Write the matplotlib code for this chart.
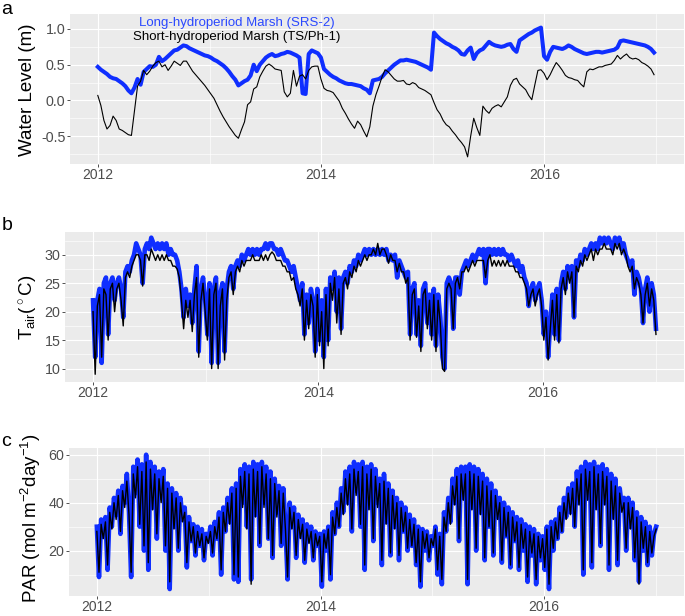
#!/usr/bin/env python
"""
Water level, air temperature and PAR at the two Everglades marsh sites, 2012-2016
"""

import matplotlib
matplotlib.use('Agg')
import matplotlib.pyplot as plt
import matplotlib.dates as mdates
import pandas as pd
from datetime import datetime

plt.rcParams['font.family'] = 'Liberation Sans'
plt.rcParams['mathtext.fontset'] = 'custom'
plt.rcParams['mathtext.rm'] = 'Liberation Sans'
plt.rcParams['mathtext.it'] = 'Liberation Sans:italic'
plt.rcParams['axes.unicode_minus'] = False

# --- data ---
# water level, every 10 days from 2012-01-01 (m)
wl_long = [
    0.47, 0.43, 0.40, 0.37, 0.33, 0.31, 0.30, 0.27, 0.24, 0.20,
    0.14, 0.10, 0.18, 0.30, 0.22, 0.40, 0.44, 0.48, 0.47, 0.50,
    0.61, 0.55, 0.58, 0.62, 0.66, 0.70, 0.71, 0.74, 0.77, 0.76,
    0.73, 0.71, 0.69, 0.67, 0.65, 0.63, 0.62, 0.60, 0.57, 0.55,
    0.52, 0.49, 0.45, 0.40, 0.34, 0.29, 0.21, 0.24, 0.27, 0.29,
    0.35, 0.50, 0.41, 0.50, 0.55, 0.60, 0.63, 0.65, 0.62, 0.63,
    0.65, 0.66, 0.68, 0.67, 0.65, 0.63, 0.60, 0.10, 0.09, 0.65,
    0.70, 0.68, 0.66, 0.60, 0.44, 0.40, 0.36, 0.33, 0.31, 0.28,
    0.26, 0.24, 0.23, 0.23, 0.22, 0.21, 0.20, 0.17, 0.15, 0.10,
    0.28, 0.29, 0.30, 0.33, 0.38, 0.42, 0.46, 0.50, 0.53, 0.56,
    0.56, 0.57, 0.56, 0.55, 0.54, 0.52, 0.50, 0.48, 0.46, 0.43,
    0.95, 0.90, 0.86, 0.83, 0.80, 0.78, 0.75, 0.73, 0.70, 0.65,
    0.64, 0.70, 0.74, 0.58, 0.66, 0.70, 0.72, 0.77, 0.82, 0.79,
    0.77, 0.76, 0.75, 0.76, 0.78, 0.79, 0.72, 0.68, 0.84, 0.87,
    0.90, 0.93, 0.95, 0.98, 1.00, 1.02, 0.62, 0.57, 0.68, 0.75,
    0.74, 0.73, 0.72, 0.74, 0.77, 0.75, 0.72, 0.70, 0.68, 0.66,
    0.65, 0.66, 0.67, 0.68, 0.68, 0.67, 0.68, 0.69, 0.70, 0.71,
    0.74, 0.83, 0.84, 0.83, 0.82, 0.81, 0.80, 0.79, 0.78, 0.77,
    0.75, 0.72, 0.67,
]
wl_short = [
    0.07, -0.07, -0.28, -0.40, -0.35, -0.22, -0.28, -0.40, -0.42, -0.45,
    -0.48, -0.49, -0.15, 0.20, 0.27, 0.42, 0.36, 0.41, 0.48, 0.53,
    0.55, 0.47, 0.50, 0.42, 0.48, 0.55, 0.52, 0.49, 0.55, 0.55,
    0.48, 0.41, 0.36, 0.31, 0.26, 0.21, 0.15, 0.09, 0.03, -0.06,
    -0.15, -0.23, -0.30, -0.37, -0.43, -0.49, -0.53, -0.41, -0.30, -0.06,
    -0.02, 0.16, 0.19, 0.33, 0.41, 0.48, 0.51, 0.48, 0.44, 0.43,
    0.42, 0.12, 0.05, 0.10, 0.42, 0.20, 0.34, 0.36, 0.30, 0.42,
    0.47, 0.48, 0.48, 0.30, 0.17, 0.14, 0.13, 0.11, 0.05, -0.01,
    -0.11, -0.18, -0.26, -0.33, -0.39, -0.29, -0.34, -0.43, -0.51, -0.37,
    -0.08, 0.08, 0.20, 0.33, 0.43, 0.40, 0.35, 0.30, 0.27, 0.27,
    0.28, 0.23, 0.22, 0.25, 0.23, 0.18, 0.16, 0.14, 0.11, 0.08,
    -0.03, -0.13, -0.19, -0.28, -0.34, -0.37, -0.43, -0.48, -0.54, -0.59,
    -0.65, -0.79, -0.50, -0.25, -0.38, -0.49, -0.08, -0.14, -0.18, -0.11,
    -0.08, -0.06, -0.09, -0.02, 0.05, 0.21, 0.29, 0.31, 0.23, 0.19,
    0.15, 0.07, 0.01, 0.22, 0.42, 0.43, 0.38, 0.29, 0.36, 0.45,
    0.53, 0.48, 0.42, 0.35, 0.32, 0.31, 0.29, 0.28, 0.23, 0.19,
    0.40, 0.44, 0.43, 0.45, 0.47, 0.47, 0.49, 0.50, 0.51, 0.56,
    0.63, 0.58, 0.62, 0.65, 0.60, 0.58, 0.59, 0.57, 0.53, 0.51,
    0.48, 0.44, 0.36,
]

# air temperature, weekly from 2012-01-01 (deg C)
tair_long = [
    # 2012
    22, 12, 22, 24, 11, 25, 26, 16, 25, 26, 22, 25, 26, 24, 19, 27, 28, 27,
    29, 30, 32, 31, 30, 25, 31, 32, 31, 33, 32, 31, 32, 31, 32, 31, 32, 30,
    31, 30, 30, 29, 27, 24, 19, 24, 21, 23, 18, 24, 28, 13, 24, 26, 22,
    # 2013
    16, 25, 11, 24, 26, 11, 23, 25, 13, 24, 27, 28, 24, 28, 29, 28, 30, 29,
    30, 31, 30, 31, 30, 31, 30, 31, 31, 32, 31, 32, 32, 31, 31, 30, 31, 30,
    29, 29, 28, 27, 28, 26, 24, 22, 25, 16, 23, 18, 24, 22, 13, 24,
    # 2014
    15, 22, 12, 24, 15, 26, 24, 27, 20, 26, 17, 26, 27, 25, 28, 27, 29, 28,
    30, 29, 30, 31, 30, 31, 30, 31, 30, 31, 30, 31, 30, 31, 29, 30, 29, 30,
    26, 29, 28, 27, 26, 27, 16, 24, 25, 16, 22, 14, 24, 25, 18, 23,
    # 2015
    16, 24, 14, 23, 19, 12, 10, 25, 26, 25, 17, 26, 26, 23, 27, 28, 29, 28,
    29, 30, 29, 30, 31, 30, 31, 25, 31, 31, 30, 31, 30, 31, 30, 31, 30, 30,
    29, 30, 29, 28, 29, 27, 28, 26, 25, 21, 24, 25, 22, 24, 25, 22,
    # 2016
    16, 20, 12, 18, 23, 16, 24, 15, 25, 27, 24, 28, 26, 28, 19, 29, 28, 30,
    29, 31, 30, 31, 32, 31, 32, 31, 33, 32, 33, 32, 33, 32, 31, 33, 32, 33,
    31, 32, 30, 29, 28, 29, 23, 27, 26, 24, 18, 24, 26, 20, 25, 23, 17,
]
tair_short = [
    # 2012
    20, 9, 21, 23, 12, 24, 23, 15, 24, 25, 20, 24, 25, 22, 17.5, 26, 27, 26,
    28, 29, 30, 30, 29, 24.5, 30, 30, 29, 31, 30, 29, 30, 29, 30, 29, 30, 29,
    29, 28, 28, 27.5, 26, 22, 17, 22, 19, 22, 16.5, 23, 26, 12, 22, 25, 20,
    # 2013
    15, 24, 10, 23, 25, 10, 21, 24, 11.5, 22, 26, 27, 23, 27, 28, 27, 29, 28,
    29, 29, 29, 30, 29, 29, 29, 30, 29, 30, 29, 30, 30.5, 30, 29, 29, 29, 28,
    28, 27, 27, 25.5, 26, 24, 23, 21, 24, 15, 22, 17, 23, 21, 12, 23,
    # 2014
    14, 20, 10, 23, 14, 25, 22, 26, 18, 24, 16, 25, 26, 24, 27, 26, 28, 27,
    29, 28, 29, 30, 29, 30, 30, 31, 30, 32, 30, 31, 31, 30, 28.5, 30, 29, 29,
    27, 28.5, 27, 27, 25, 26, 15, 23, 24, 15.5, 21, 13, 23, 24, 17, 22,
    # 2015
    15, 23, 13, 22, 18, 10, 9.5, 24, 25, 24, 17, 25, 26, 24, 27, 27, 28, 27,
    28, 29, 28, 29, 29, 29, 29, 26, 29, 30, 28, 29, 28, 29, 28, 29, 28, 29,
    28, 28, 28, 27, 27, 26, 26, 25, 24, 21, 23, 24, 21, 23, 24, 21,
    # 2016
    15, 19, 11.5, 17, 22, 15, 23, 14.5, 24, 26, 23, 27, 25, 27, 19, 28, 27, 29,
    28, 30, 29, 30, 31, 29, 31, 30, 31, 31, 32, 31, 31, 31, 30, 32, 31, 32,
    30, 31, 30, 28, 27, 28, 24, 26, 25, 23, 18, 23, 25, 21, 24, 22, 16,
]

# PAR, weekly from 2012-01-01 (mol m-2 day-1)
par_long = [
    # 2012
    30, 9, 33, 26, 34, 12, 38, 30, 42, 35, 45, 27, 47, 40, 52, 36, 9, 55,
    44, 58, 30, 56, 20, 60, 12, 57, 38, 55, 25, 53, 42, 54, 20, 48, 4, 46,
    30, 44, 20, 42, 33, 38, 13, 34, 24, 31, 18, 30, 22, 29, 16, 27, 24,
    # 2013
    30, 18, 32, 25, 36, 10, 38, 28, 42, 32, 46, 8, 48, 7, 54, 40, 56, 30,
    55, 8, 57, 35, 56, 22, 57, 40, 55, 25, 53, 17, 50, 36, 47, 22, 46, 30,
    8, 40, 30, 38, 17, 35, 26, 33, 15, 31, 24, 30, 16, 28, 22, 27,
    # 2014
    5, 28, 20, 30, 8, 36, 27, 40, 30, 46, 36, 53, 40, 55, 28, 57, 45, 56,
    30, 57, 12, 55, 38, 56, 24, 54, 40, 50, 14, 52, 32, 48, 18, 45, 30, 42,
    16, 40, 28, 38, 20, 35, 22, 33, 14, 30, 5, 29, 20, 28, 16, 26,
    # 2015
    22, 30, 10, 27, 6, 36, 28, 42, 32, 50, 40, 54, 24, 55, 42, 55, 6, 56,
    38, 55, 20, 54, 36, 52, 16, 50, 30, 48, 18, 45, 34, 42, 15, 40, 26, 38,
    13, 36, 24, 34, 12, 33, 20, 31, 7, 30, 18, 29, 6, 27, 16, 26,
    # 2016
    12, 30, 4, 32, 20, 33, 25, 38, 28, 42, 34, 46, 36, 48, 30, 53, 40, 55,
    10, 57, 42, 56, 13, 57, 38, 55, 22, 56, 40, 54, 12, 52, 34, 50, 14, 46,
    38, 42, 20, 42, 30, 40, 16, 36, 7, 34, 20, 32, 14, 30, 18, 27, 30,
]
par_short = [
    # 2012
    28, 11, 31, 25, 32, 14, 36, 29, 40, 33, 43, 28, 45, 38, 49, 35, 11, 52,
    42, 55, 31, 53, 22, 57, 15, 54, 37, 52, 27, 50, 40, 51, 22, 46, 7, 44,
    29, 42, 21, 40, 32, 36, 15, 32, 24, 30, 19, 28, 22, 27, 17, 26, 23,
    # 2013
    28, 19, 30, 25, 34, 12, 36, 28, 40, 31, 44, 10, 46, 9, 51, 38, 53, 29,
    52, 6, 54, 34, 53, 23, 55, 38, 52, 25, 50, 18, 48, 34, 45, 23, 44, 29,
    9, 38, 29, 36, 18, 33, 25, 31, 16, 29, 23, 28, 17, 27, 22, 26,
    # 2014
    7, 27, 21, 29, 10, 34, 27, 38, 30, 44, 35, 50, 39, 52, 29, 54, 43, 53,
    31, 55, 14, 52, 37, 54, 25, 51, 38, 48, 16, 49, 31, 46, 19, 43, 29, 40,
    18, 38, 28, 36, 21, 33, 22, 31, 15, 29, 7, 28, 21, 27, 17, 25,
    # 2015
    22, 29, 12, 26, 8, 34, 28, 40, 31, 47, 39, 51, 25, 52, 41, 52, 8, 53,
    37, 52, 21, 51, 35, 49, 17, 47, 30, 45, 19, 43, 33, 40, 16, 38, 26, 36,
    14, 34, 24, 32, 13, 31, 21, 29, 9, 28, 19, 27, 8, 26, 17, 25,
    # 2016
    13, 29, 6, 30, 21, 32, 25, 36, 28, 40, 33, 44, 35, 46, 30, 50, 39, 52,
    12, 54, 41, 53, 15, 55, 37, 52, 23, 53, 39, 51, 14, 49, 33, 47, 16, 44,
    36, 40, 21, 40, 29, 38, 17, 34, 6, 32, 21, 30, 15, 28, 19, 26, 29,
]

site_long = 'Long-hydroperiod Marsh (SRS-2)'
site_short = 'Short-hydroperiod Marsh (TS/Ph-1)'

wl_dates = pd.date_range('2012-01-01', periods=len(wl_long), freq='10D')
wk_dates = pd.date_range('2012-01-01', periods=len(tair_long), freq='7D')

BLUE = '#0f2eff'
W, H = 685, 616

fig = plt.figure(figsize=(W / 100, H / 100), dpi=100)


def panel(left, top, right, bottom):
    # pixel box -> figure fraction
    return fig.add_axes([left / W, 1 - bottom / H, (right - left) / W, (bottom - top) / H])


def style(ax, ylim, major, minor, labels):
    ax.set_facecolor('#EBEBEB')
    for s in ax.spines.values():
        s.set_visible(False)
    ax.set_xlim(datetime(2011, 10, 2), datetime(2017, 4, 2))
    ax.set_ylim(*ylim)
    ax.xaxis.set_major_locator(mdates.YearLocator(2))
    ax.xaxis.set_minor_locator(mdates.YearLocator(1))
    ax.xaxis.set_major_formatter(mdates.DateFormatter('%Y'))
    ax.set_yticks(major)
    ax.set_yticklabels(labels)
    ax.set_yticks(minor, minor=True)
    ax.grid(which='major', color='white', linewidth=0.85)
    ax.grid(which='minor', color='white', linewidth=0.45)
    ax.set_axisbelow(True)
    ax.tick_params(which='major', length=2.5, width=0.6, color='#333333',
                   labelsize=10.3, labelcolor='#4D4D4D', pad=0.8)
    ax.tick_params(axis='x', which='major', labelsize=10, pad=0.5)
    ax.tick_params(which='minor', length=0)


# a: water level
ax1 = panel(70, 14, 684, 164)
style(ax1, (-0.89, 1.21), [-0.5, 0, 0.5, 1.0], [-0.75, -0.25, 0.25, 0.75],
      ['-0.5', '0.0', '0.5', '1.0'])
ax1.plot(wl_dates, wl_long, color=BLUE, lw=2.9, solid_joinstyle='round')
ax1.plot(wl_dates, wl_short, color='black', lw=0.8)
ax1.text(datetime(2013, 3, 30), 1.08, site_long, color='#2a48ff', fontsize=9.5,
         ha='center', va='center')
ax1.text(datetime(2013, 3, 30), 0.89, site_short, color='black', fontsize=9.5,
         ha='center', va='center')

# b: air temperature
ax2 = panel(65, 232, 684, 382)
style(ax2, (7.64, 34.0), [10, 15, 20, 25, 30], [12.5, 17.5, 22.5, 27.5, 32.5],
      ['10', '15', '20', '25', '30'])
ax2.plot(wk_dates, tair_long, color=BLUE, lw=3.3, solid_joinstyle='round')
ax2.plot(wk_dates, tair_short, color='black', lw=1.0)

# c: PAR
ax3 = panel(69, 448, 684, 596)
style(ax3, (1.1, 62.8), [20, 40, 60], [10, 30, 50], ['20', '40', '60'])
ax3.plot(wk_dates, par_long, color=BLUE, lw=3.3, solid_joinstyle='round')
ax3.plot(wk_dates, par_short, color='black', lw=1.0)

# axis titles
fig.text(27 / W, 1 - 90 / H, 'Water Level (m)', rotation=90, ha='center',
         va='center', fontsize=13.5)
fig.text(29 / W, 1 - 307 / H, r'T$_{\mathrm{air}}$($^\circ$C)', rotation=90,
         ha='center', va='center', fontsize=13.5)
fig.text(31 / W, 1 - 518 / H, r'PAR (mol m$^{-2}$day$^{-1}$)', rotation=90,
         ha='center', va='center', fontsize=13.5)

# panel letters
for lab, ybase in [('a', 14), ('b', 230), ('c', 446)]:
    fig.text(1.5 / W, 1 - ybase / H, lab, fontsize=14, va='baseline', ha='left')

fig.savefig('out.png', dpi=100, facecolor='white')
